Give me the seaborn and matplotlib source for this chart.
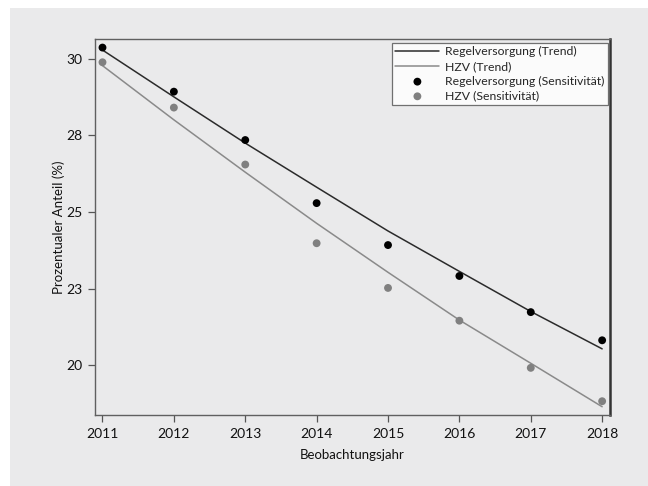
import matplotlib
matplotlib.use("Agg")
import matplotlib.pyplot as plt
from matplotlib.patches import Rectangle
import numpy as np
import pandas as pd
import seaborn as sns

# Observation years
years = [2011, 2012, 2013, 2014, 2015, 2016, 2017, 2018]

# Fitted trends (%)
regel_trend = [30.29, 28.76, 27.25, 25.81, 24.38, 23.06, 21.75, 20.53]
hzv_trend = [29.78, 28.01, 26.30, 24.63, 23.03, 21.47, 20.06, 18.64]

# Sensitivity analysis values (%)
regel_sens = [30.37, 28.93, 27.35, 25.29, 23.92, 22.91, 21.73, 20.81]
hzv_sens = [29.89, 28.41, 26.55, 23.98, 22.52, 21.45, 19.91, 18.82]

# Axis ticks
y_ticks = [30, 27.5, 25, 22.5, 20]
y_tick_labels = ["30", "28", "25", "23", "20"]
x_ticks = years

BG = "#eaeaeb"

sns.set_theme(style="ticks")
plt.rcParams["font.family"] = ["Lato", "DejaVu Sans"]

fig = plt.figure(figsize=(6.48, 4.86), dpi=100, facecolor="white")
fig.patches.append(Rectangle((10 / 648, 0), 1, 1 - 8 / 486, transform=fig.transFigure,
                             facecolor=BG, edgecolor="none", zorder=-10))
ax = fig.add_axes([95 / 648, 1 - 415 / 486, (610 - 95) / 648, (415 - 39) / 486])
ax.set_facecolor(BG)

df = pd.DataFrame({
    "Jahr": years,
    "regel_trend": regel_trend,
    "hzv_trend": hzv_trend,
    "regel_sens": regel_sens,
    "hzv_sens": hzv_sens,
})

sns.lineplot(data=df, x="Jahr", y="regel_trend", color="#2b2b2b", lw=1.1,
             label="Regelversorgung (Trend)", ax=ax)
sns.lineplot(data=df, x="Jahr", y="hzv_trend", color="#8a8a8a", lw=1.1,
             label="HZV (Trend)", ax=ax)
sns.scatterplot(data=df, x="Jahr", y="regel_sens", color="#000000", s=32,
                edgecolor="none", label="Regelversorgung (Sensitivität)", ax=ax, zorder=3)
sns.scatterplot(data=df, x="Jahr", y="hzv_sens", color="#808080", s=32,
                edgecolor="none", label="HZV (Sensitivität)", ax=ax, zorder=3)

ax.set_xlim(2010.895, 2018.11)
ax.set_ylim(18.37, 30.65)
ax.set_xticks(x_ticks)
ax.set_xticklabels([str(y) for y in x_ticks])
ax.set_yticks(y_ticks)
ax.set_yticklabels(y_tick_labels)
ax.tick_params(axis="both", direction="out", length=5, width=0.9, color="#555555",
               labelsize=10, labelcolor="#111111", pad=4)

ax.set_xlabel("Beobachtungsjahr", fontsize=9.5, color="#111111", labelpad=7)
ax.set_ylabel("Prozentualer Anteil (%)", fontsize=9.5, color="#111111", labelpad=1)

for side in ["left", "bottom", "top"]:
    ax.spines[side].set_color("#606060")
    ax.spines[side].set_linewidth(1.0)
ax.spines["right"].set_color("#333333")
ax.spines["right"].set_linewidth(1.8)

leg = ax.legend(loc="upper right", bbox_to_anchor=(0.996, 0.99), fontsize=8.8,
                frameon=True, fancybox=False, handlelength=3.6, handletextpad=0.45,
                labelspacing=0.3, borderpad=0.3, borderaxespad=0.0)
leg.get_frame().set_facecolor("#fbfbfb")
leg.get_frame().set_edgecolor("#707070")
leg.get_frame().set_linewidth(0.9)
leg.get_frame().set_alpha(1)

fig.savefig("out.png", dpi=100, facecolor=fig.get_facecolor())
